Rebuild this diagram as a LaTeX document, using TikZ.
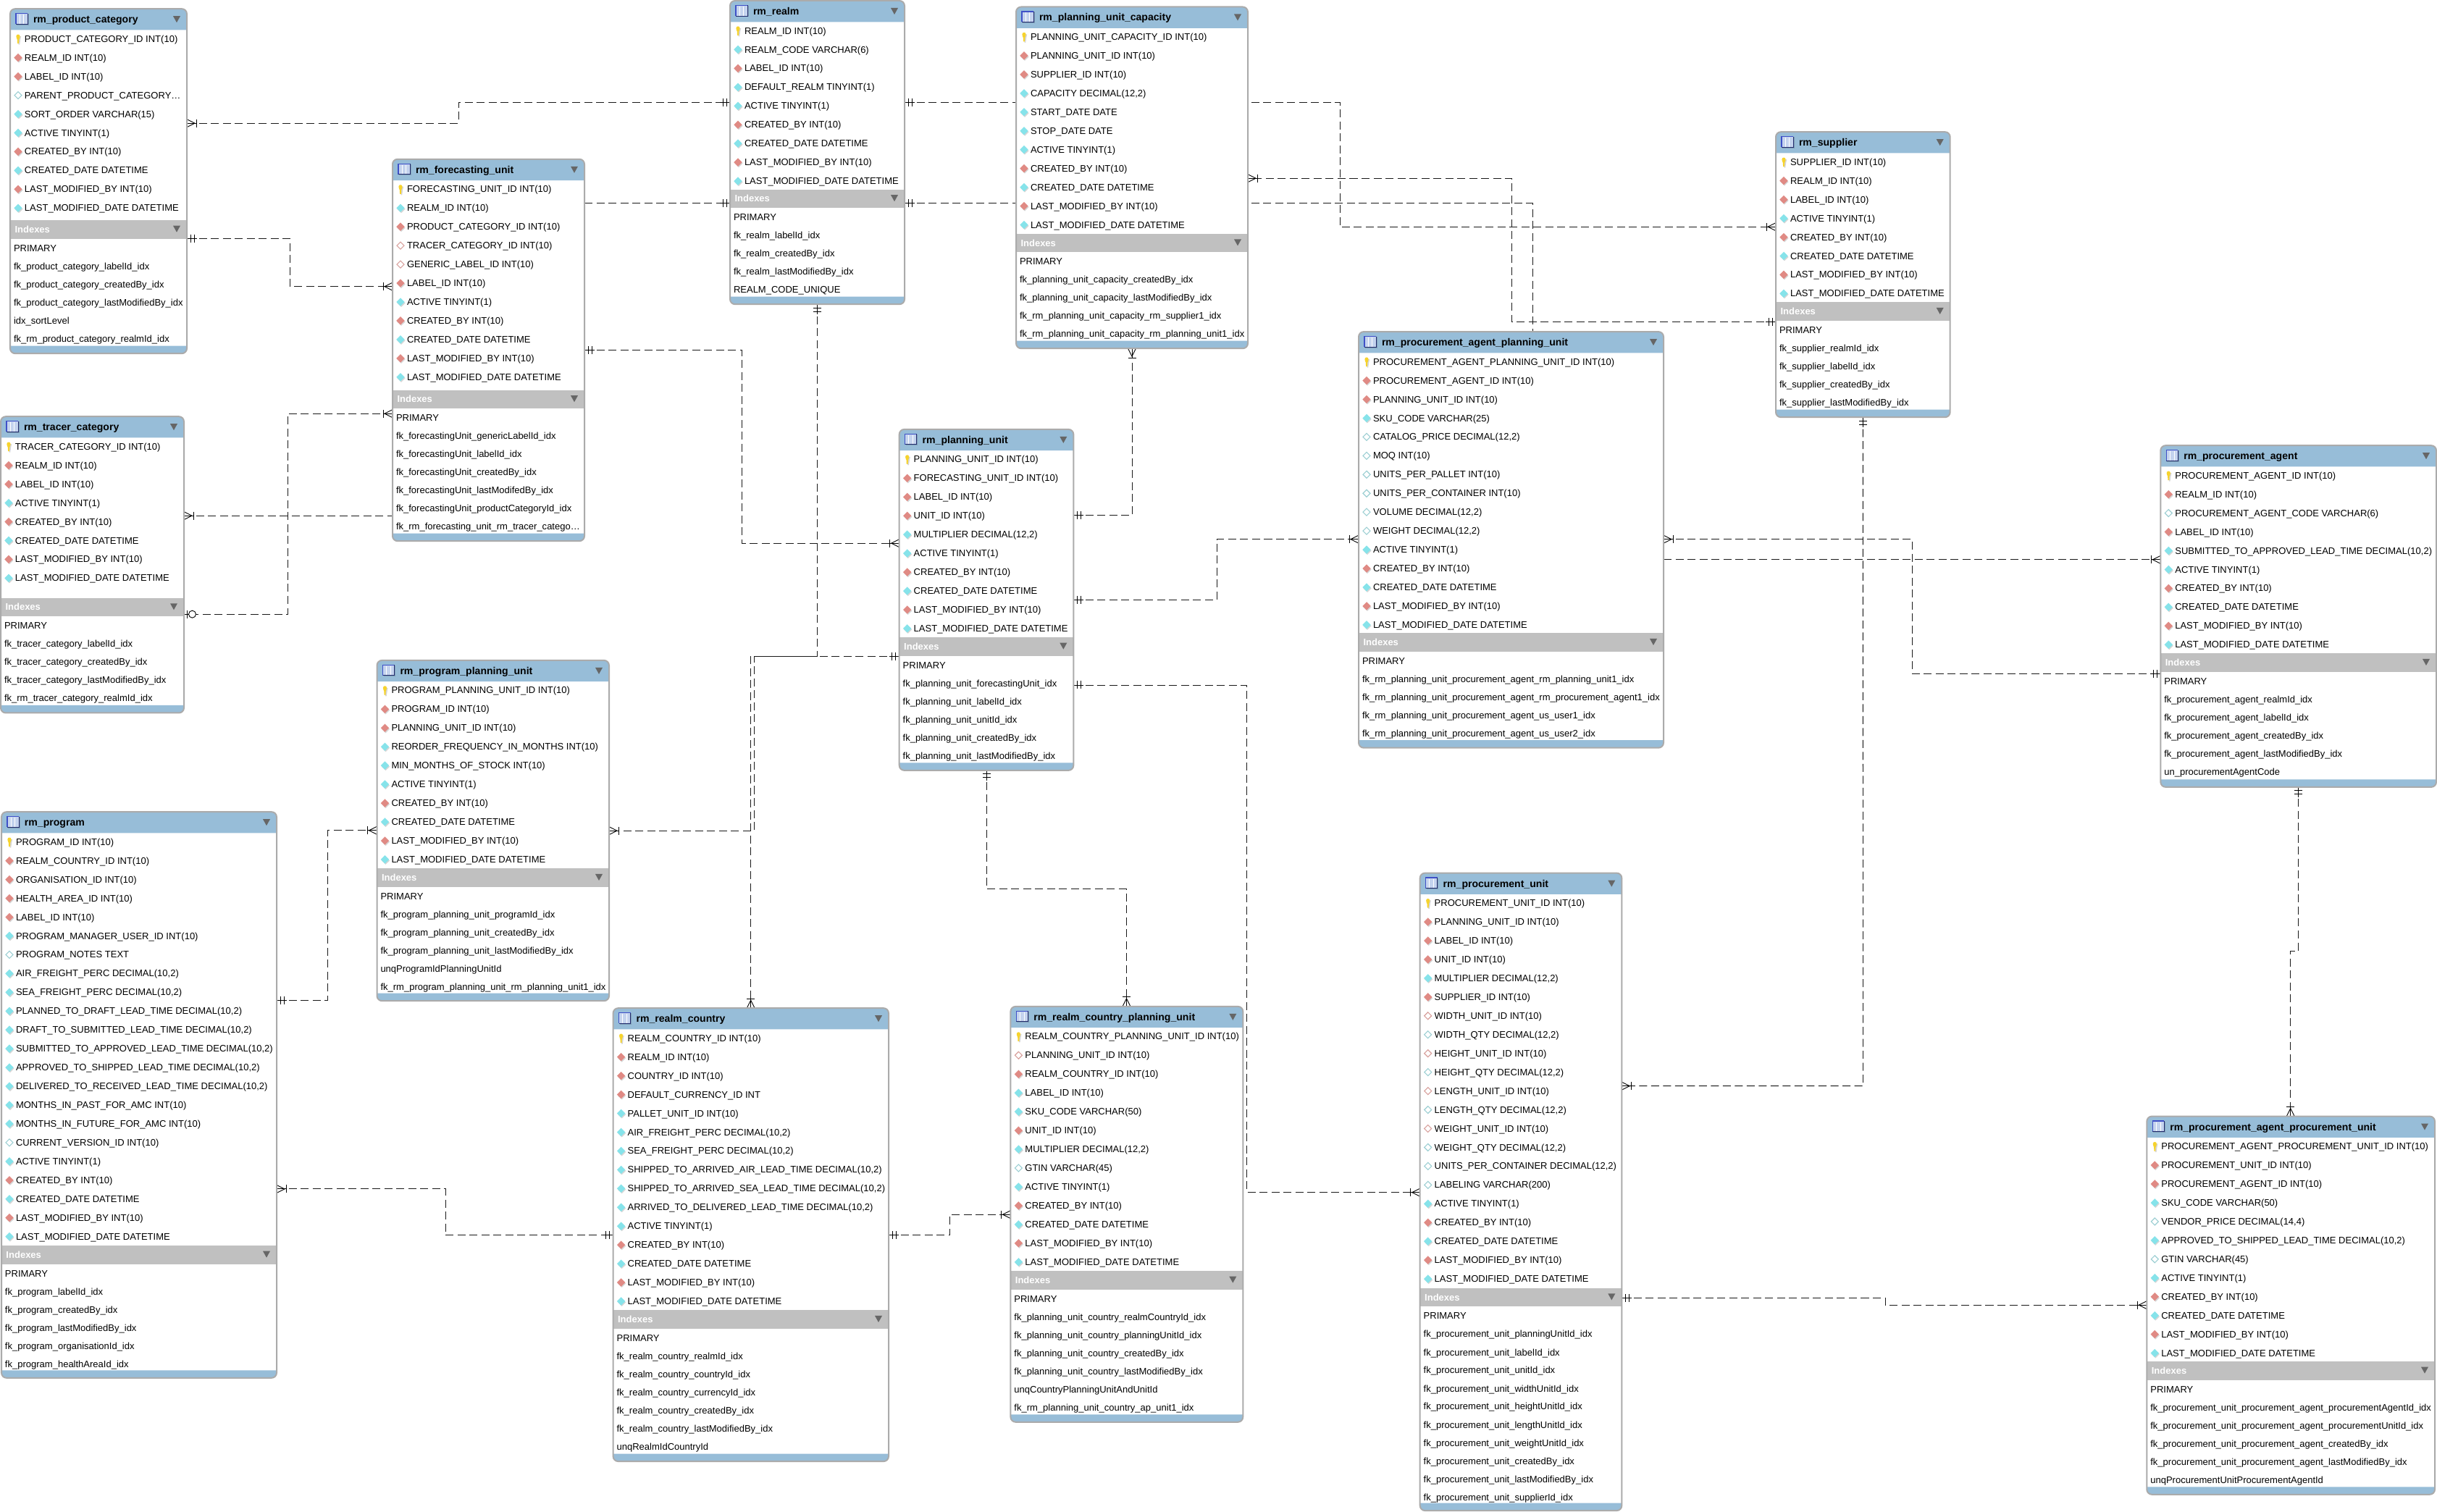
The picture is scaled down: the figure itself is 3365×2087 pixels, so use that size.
\documentclass[tikz,border=0pt]{standalone}
\usepackage{fontspec}
\setmainfont{Liberation Sans}
\usetikzlibrary{calc}
\pgfdeclarelayer{lines}
\pgfsetlayers{lines,main}
\catcode`\_=12
\definecolor{hdrblue}{HTML}{97BDD8}
\definecolor{barGray}{HTML}{C0C0C0}
\definecolor{edgeGray}{HTML}{ABABAB}
\definecolor{triGray}{HTML}{666666}
\definecolor{redfk}{HTML}{E08A84}
\definecolor{cyanfk}{HTML}{86E3EA}
\definecolor{cyanline}{HTML}{9CCFD3}
\definecolor{redline}{HTML}{D8A09C}
\definecolor{keyyellow}{HTML}{F6D32D}
\definecolor{iconblue}{HTML}{3F50C8}
\definecolor{iconfill}{HTML}{C4D3EE}
\tikzset{
  conn/.style={black!90,line width=0.009cm,dash pattern=on 0.11cm off 0.055cm},
  tipline/.style={black,line width=0.009cm,solid},
  tablebody/.style={fill=white,draw=none,inner sep=0pt,outer sep=0pt,rectangle,rounded corners=0.07cm},
  tableedge/.style={draw=edgeGray,line width=0.02cm,rounded corners=0.07cm},
  coltext/.style={anchor=base west,inner sep=0pt,outer sep=0pt,text=black,font=\fontsize{3.7pt}{4.4pt}\selectfont},
  titletext/.style={anchor=base west,inner sep=0pt,outer sep=0pt,text=black,font=\fontsize{4pt}{4.8pt}\selectfont\bfseries},
  barhead/.style={anchor=base west,inner sep=0pt,outer sep=0pt,text=white,font=\fontsize{3.7pt}{4.4pt}\selectfont\bfseries},
  shade/.style={fill=black,fill opacity=0.16},
  pics/crow/.style={code={
    \draw[tipline] (0,-5.5) -- (11,0) -- (0,5.5);
    \draw[tipline] (0,0) -- (13,0);
    \draw[tipline] (13,-5.5) -- (13,5.5);}},
  pics/one/.style={code={
    \draw[tipline] (0,0) -- (14,0);
    \draw[tipline] (5,-5.5) -- (5,5.5);
    \draw[tipline] (10,-5.5) -- (10,5.5);}},
  pics/zeroone/.style={code={
    \draw[tipline] (0,0) -- (6,0);
    \draw[tipline] (4,-5.5) -- (4,5.5);
    \draw[tipline,fill=white] (11.5,0) circle[radius=5];}},
  pics/none/.style={code={}},
  pics/mkkey/.style={code={
    \fill[shade] (-1.2,-3.6) -- (4.2,-3.6) -- (3.2,1) -- (2.2,8) -- (0.6,8) -- (0,1) -- cycle;
    \fill[keyyellow] (-2.6,-3.5) .. controls (-2.6,-7) and (2.6,-7) .. (2.6,-3.5) .. controls (2.6,-1) and (1.4,0) .. (1.2,1) -- (0.9,6.5) -- (-0.9,6.5) -- (-1.2,1) .. controls (-1.4,0) and (-2.6,-1) .. (-2.6,-3.5) -- cycle;}},
  pics/mkred/.style={code={
    \fill[shade] (-4.6,1.5) -- (1,-4) -- (6.6,1.5) -- (1,7) -- cycle;
    \fill[redfk] (-5.7,0) -- (0,-5.7) -- (5.7,0) -- (0,5.7) -- cycle;}},
  pics/mkcyan/.style={code={
    \fill[shade] (-4.6,1.5) -- (1,-4) -- (6.6,1.5) -- (1,7) -- cycle;
    \fill[cyanfk] (-5.7,0) -- (0,-5.7) -- (5.7,0) -- (0,5.7) -- cycle;}},
  pics/mkhollow/.style={code={
    \draw[cyanline,line width=0.011cm,fill=white] (-5,0) -- (0,-5) -- (5,0) -- (0,5) -- cycle;}},
  pics/mkpink/.style={code={
    \draw[redline,line width=0.011cm,fill=white] (-5,0) -- (0,-5) -- (5,0) -- (0,5) -- cycle;}},
}
\newcount\rowno
\newcount\idxno
\newcommand{\colrow}[2]{%
  \global\advance\rowno by 1
  \pgfmathsetmacro\ry{\curT+41.5+25.95*(\the\rowno-1)}%
  \pic at (\curX+11,\ry) {#1};
  \node[coltext] (\curN-c\the\rowno) at (\curX+20,\ry+4.6) {#2};
}
\newcommand{\K}[1]{\colrow{mkkey}{#1}}
\newcommand{\R}[1]{\colrow{mkred}{#1}}
\newcommand{\C}[1]{\colrow{mkcyan}{#1}}
\newcommand{\N}[1]{\colrow{mkhollow}{#1}}
\newcommand{\Q}[1]{\colrow{mkpink}{#1}}
\newcommand{\Act}{\C{ACTIVE TINYINT(1)}}
\newcommand{\Audit}{\R{CREATED_BY INT(10)}\C{CREATED_DATE DATETIME}\R{LAST_MODIFIED_BY INT(10)}\C{LAST_MODIFIED_DATE DATETIME}}
\newcommand{\I}[1]{%
  \global\advance\idxno by 1
  \pgfmathsetmacro\ry{\curB+38.5+25*(\the\idxno-1)}%
  \node[coltext] (\curN-i\the\idxno) at (\curX+5,\ry+4.6) {#1};
}
% name, x1, x2, top, index bar top, bottom, title, columns, indexes
\newcommand{\erdtable}[9]{%
  \def\curN{#1}\def\curX{#2}\def\curT{#4}\def\curB{#5}%
  \global\rowno=0 \global\idxno=0
  \pgfmathsetmacro\tw{#3-#2}\pgfmathsetmacro\th{#6-#4}%
  \pgfmathsetmacro\cx{(#3+#2)/2}\pgfmathsetmacro\cy{(#6+#4)/2}%
  \node[tablebody,minimum width=\tw*0.01cm,minimum height=\th*0.01cm] (#1) at (\cx,\cy) {};
  \fill[hdrblue] (#2,#4+29.3) [rounded corners=0.07cm] -- (#2,#4) -- (#3,#4) [sharp corners] -- (#3,#4+29.3) -- cycle;
  \fill[hdrblue] (#2,#6-10.5) -- (#3,#6-10.5) [rounded corners=0.07cm] -- (#3,#6) -- (#2,#6) [sharp corners] -- cycle;
  \fill[barGray] (#2,#5) rectangle (#3,#5+25.4);
  \draw[tableedge] (#2,#4) rectangle (#3,#6);
  % icon
  \fill[shade] (#2+9,#4+7) rectangle (#2+25.5,#4+22.5);
  \fill[iconfill] (#2+8,#4+6) rectangle (#2+24,#4+21);
  \draw[white,line width=0.006cm] (#2+13,#4+8) -- (#2+13,#4+21) (#2+18.5,#4+8) -- (#2+18.5,#4+21);
  \draw[iconblue,line width=0.012cm] (#2+8,#4+21) -- (#2+8,#4+6.5) -- (#2+24,#4+6.5);
  \draw[iconblue!55!black,line width=0.008cm] (#2+24,#4+6.5) -- (#2+24,#4+21) -- (#2+8,#4+21);
  \node[titletext] (#1-title) at (#2+32,#4+19.5) {#7};
  \fill[triGray] (#3-19,#4+10) -- (#3-9,#4+10) -- (#3-14,#4+19) -- cycle;
  \node[barhead] (#1-indexes) at (#2+6.5,#5+17.2) {Indexes};
  \fill[triGray] (#3-19,#5+7.5) -- (#3-9,#5+7.5) -- (#3-14,#5+16.5) -- cycle;
  #8
  #9
}
% start, tip, rotation, middle path, end, tip, rotation
\newcommand{\rel}[7]{%
  \draw[conn] #1 #4 #5;
  \pic[rotate=#3] at #1 {#2};
  \pic[rotate=#7] at #5 {#6};
}
\begin{document}
\begin{tikzpicture}[x=0.01cm,y=-0.01cm]
\begin{pgfonlayer}{lines}
\path[use as bounding box,fill=white] (0,0) rectangle (3365,2087);
\end{pgfonlayer}

\erdtable{pc}{14}{258}{12}{304}{488}{rm_product_category}{%
  \K{PRODUCT_CATEGORY_ID INT(10)}\R{REALM_ID INT(10)}\R{LABEL_ID INT(10)}\N{PARENT_PRODUCT_CATEGORY…}\C{SORT_ORDER VARCHAR(15)}\Act\Audit}{%
  \I{PRIMARY}\I{fk_product_category_labelId_idx}\I{fk_product_category_createdBy_idx}\I{fk_product_category_lastModifiedBy_idx}\I{idx_sortLevel}\I{fk_rm_product_category_realmId_idx}}

\erdtable{fu}{542}{807}{219.6}{538.5}{747}{rm_forecasting_unit}{%
  \K{FORECASTING_UNIT_ID INT(10)}\C{REALM_ID INT(10)}\R{PRODUCT_CATEGORY_ID INT(10)}\Q{TRACER_CATEGORY_ID INT(10)}\Q{GENERIC_LABEL_ID INT(10)}\R{LABEL_ID INT(10)}\Act\Audit}{%
  \I{PRIMARY}\I{fk_forecastingUnit_genericLabelId_idx}\I{fk_forecastingUnit_labelId_idx}\I{fk_forecastingUnit_createdBy_idx}\I{fk_forecastingUnit_lastModifedBy_idx}\I{fk_forecastingUnit_productCategoryId_idx}\I{fk_rm_forecasting_unit_rm_tracer_catego…}}

\erdtable{tc}{1}{254}{575}{825.6}{984.3}{rm_tracer_category}{%
  \K{TRACER_CATEGORY_ID INT(10)}\R{REALM_ID INT(10)}\R{LABEL_ID INT(10)}\Act\Audit}{%
  \I{PRIMARY}\I{fk_tracer_category_labelId_idx}\I{fk_tracer_category_createdBy_idx}\I{fk_tracer_category_lastModifiedBy_idx}\I{fk_rm_tracer_category_realmId_idx}}

\erdtable{realm}{1008}{1249}{0.8}{261.5}{420}{rm_realm}{%
  \K{REALM_ID INT(10)}\C{REALM_CODE VARCHAR(6)}\R{LABEL_ID INT(10)}\C{DEFAULT_REALM TINYINT(1)}\Act\Audit}{%
  \I{PRIMARY}\I{fk_realm_labelId_idx}\I{fk_realm_createdBy_idx}\I{fk_realm_lastModifiedBy_idx}\I{REALM_CODE_UNIQUE}}

\erdtable{cap}{1403}{1723}{9.3}{322.7}{481}{rm_planning_unit_capacity}{%
  \K{PLANNING_UNIT_CAPACITY_ID INT(10)}\R{PLANNING_UNIT_ID INT(10)}\R{SUPPLIER_ID INT(10)}\C{CAPACITY DECIMAL(12,2)}\C{START_DATE DATE}\C{STOP_DATE DATE}\Act\Audit}{%
  \I{PRIMARY}\I{fk_planning_unit_capacity_createdBy_idx}\I{fk_planning_unit_capacity_lastModifiedBy_idx}\I{fk_rm_planning_unit_capacity_rm_supplier1_idx}\I{fk_rm_planning_unit_capacity_rm_planning_unit1_idx}}

\erdtable{sup}{2452}{2692.7}{182}{417.3}{576}{rm_supplier}{%
  \K{SUPPLIER_ID INT(10)}\R{REALM_ID INT(10)}\R{LABEL_ID INT(10)}\Act\Audit}{%
  \I{PRIMARY}\I{fk_supplier_realmId_idx}\I{fk_supplier_labelId_idx}\I{fk_supplier_createdBy_idx}\I{fk_supplier_lastModifiedBy_idx}}

\erdtable{pu}{1241.7}{1482.3}{592.7}{880}{1063.7}{rm_planning_unit}{%
  \K{PLANNING_UNIT_ID INT(10)}\R{FORECASTING_UNIT_ID INT(10)}\R{LABEL_ID INT(10)}\R{UNIT_ID INT(10)}\C{MULTIPLIER DECIMAL(12,2)}\Act\Audit}{%
  \I{PRIMARY}\I{fk_planning_unit_forecastingUnit_idx}\I{fk_planning_unit_labelId_idx}\I{fk_planning_unit_unitId_idx}\I{fk_planning_unit_createdBy_idx}\I{fk_planning_unit_lastModifiedBy_idx}}

\erdtable{apu}{1876}{2297}{457.9}{874.3}{1032.5}{rm_procurement_agent_planning_unit}{%
  \K{PROCUREMENT_AGENT_PLANNING_UNIT_ID INT(10)}\R{PROCUREMENT_AGENT_ID INT(10)}\R{PLANNING_UNIT_ID INT(10)}\C{SKU_CODE VARCHAR(25)}\N{CATALOG_PRICE DECIMAL(12,2)}\N{MOQ INT(10)}\N{UNITS_PER_PALLET INT(10)}\N{UNITS_PER_CONTAINER INT(10)}\N{VOLUME DECIMAL(12,2)}\N{WEIGHT DECIMAL(12,2)}\Act\Audit}{%
  \I{PRIMARY}\I{fk_rm_planning_unit_procurement_agent_rm_planning_unit1_idx}\I{fk_rm_planning_unit_procurement_agent_rm_procurement_agent1_idx}\I{fk_rm_planning_unit_procurement_agent_us_user1_idx}\I{fk_rm_planning_unit_procurement_agent_us_user2_idx}}

\erdtable{pa}{2983.3}{3364}{615}{902.3}{1086.7}{rm_procurement_agent}{%
  \K{PROCUREMENT_AGENT_ID INT(10)}\R{REALM_ID INT(10)}\N{PROCUREMENT_AGENT_CODE VARCHAR(6)}\R{LABEL_ID INT(10)}\C{SUBMITTED_TO_APPROVED_LEAD_TIME DECIMAL(10,2)}\Act\Audit}{%
  \I{PRIMARY}\I{fk_procurement_agent_realmId_idx}\I{fk_procurement_agent_labelId_idx}\I{fk_procurement_agent_createdBy_idx}\I{fk_procurement_agent_lastModifiedBy_idx}\I{un_procurementAgentCode}}

\erdtable{ppu}{520.5}{841}{911.7}{1199.3}{1382}{rm_program_planning_unit}{%
  \K{PROGRAM_PLANNING_UNIT_ID INT(10)}\R{PROGRAM_ID INT(10)}\R{PLANNING_UNIT_ID INT(10)}\C{REORDER_FREQUENCY_IN_MONTHS INT(10)}\C{MIN_MONTHS_OF_STOCK INT(10)}\Act\Audit}{%
  \I{PRIMARY}\I{fk_program_planning_unit_programId_idx}\I{fk_program_planning_unit_createdBy_idx}\I{fk_program_planning_unit_lastModifiedBy_idx}\I{unqProgramIdPlanningUnitId}\I{fk_rm_program_planning_unit_rm_planning_unit1_idx}}

\erdtable{prog}{2}{382}{1121}{1720}{1902.6}{rm_program}{%
  \K{PROGRAM_ID INT(10)}\R{REALM_COUNTRY_ID INT(10)}\R{ORGANISATION_ID INT(10)}\R{HEALTH_AREA_ID INT(10)}\R{LABEL_ID INT(10)}\C{PROGRAM_MANAGER_USER_ID INT(10)}\N{PROGRAM_NOTES TEXT}\C{AIR_FREIGHT_PERC DECIMAL(10,2)}\C{SEA_FREIGHT_PERC DECIMAL(10,2)}\C{PLANNED_TO_DRAFT_LEAD_TIME DECIMAL(10,2)}\C{DRAFT_TO_SUBMITTED_LEAD_TIME DECIMAL(10,2)}\C{SUBMITTED_TO_APPROVED_LEAD_TIME DECIMAL(10,2)}\C{APPROVED_TO_SHIPPED_LEAD_TIME DECIMAL(10,2)}\C{DELIVERED_TO_RECEIVED_LEAD_TIME DECIMAL(10,2)}\C{MONTHS_IN_PAST_FOR_AMC INT(10)}\C{MONTHS_IN_FUTURE_FOR_AMC INT(10)}\N{CURRENT_VERSION_ID INT(10)}\Act\Audit}{%
  \I{PRIMARY}\I{fk_program_labelId_idx}\I{fk_program_createdBy_idx}\I{fk_program_lastModifiedBy_idx}\I{fk_program_organisationId_idx}\I{fk_program_healthAreaId_idx}}

\erdtable{rc}{846.6}{1227}{1392}{1809.3}{2017.9}{rm_realm_country}{%
  \K{REALM_COUNTRY_ID INT(10)}\R{REALM_ID INT(10)}\R{COUNTRY_ID INT(10)}\R{DEFAULT_CURRENCY_ID INT}\C{PALLET_UNIT_ID INT(10)}\C{AIR_FREIGHT_PERC DECIMAL(10,2)}\C{SEA_FREIGHT_PERC DECIMAL(10,2)}\C{SHIPPED_TO_ARRIVED_AIR_LEAD_TIME DECIMAL(10,2)}\C{SHIPPED_TO_ARRIVED_SEA_LEAD_TIME DECIMAL(10,2)}\C{ARRIVED_TO_DELIVERED_LEAD_TIME DECIMAL(10,2)}\Act\Audit}{%
  \I{PRIMARY}\I{fk_realm_country_realmId_idx}\I{fk_realm_country_countryId_idx}\I{fk_realm_country_currencyId_idx}\I{fk_realm_country_createdBy_idx}\I{fk_realm_country_lastModifiedBy_idx}\I{unqRealmIdCountryId}}

\erdtable{rcpu}{1395.4}{1716.3}{1389.7}{1755}{1963.6}{rm_realm_country_planning_unit}{%
  \K{REALM_COUNTRY_PLANNING_UNIT_ID INT(10)}\Q{PLANNING_UNIT_ID INT(10)}\R{REALM_COUNTRY_ID INT(10)}\C{LABEL_ID INT(10)}\C{SKU_CODE VARCHAR(50)}\R{UNIT_ID INT(10)}\C{MULTIPLIER DECIMAL(12,2)}\N{GTIN VARCHAR(45)}\Act\Audit}{%
  \I{PRIMARY}\I{fk_planning_unit_country_realmCountryId_idx}\I{fk_planning_unit_country_planningUnitId_idx}\I{fk_planning_unit_country_createdBy_idx}\I{fk_planning_unit_country_lastModifiedBy_idx}\I{unqCountryPlanningUnitAndUnitId}\I{fk_rm_planning_unit_country_ap_unit1_idx}}

\erdtable{pru}{1960.7}{2239.3}{1205.4}{1778.7}{2085.9}{rm_procurement_unit}{%
  \K{PROCUREMENT_UNIT_ID INT(10)}\R{PLANNING_UNIT_ID INT(10)}\R{LABEL_ID INT(10)}\R{UNIT_ID INT(10)}\C{MULTIPLIER DECIMAL(12,2)}\R{SUPPLIER_ID INT(10)}\Q{WIDTH_UNIT_ID INT(10)}\N{WIDTH_QTY DECIMAL(12,2)}\Q{HEIGHT_UNIT_ID INT(10)}\N{HEIGHT_QTY DECIMAL(12,2)}\Q{LENGTH_UNIT_ID INT(10)}\N{LENGTH_QTY DECIMAL(12,2)}\Q{WEIGHT_UNIT_ID INT(10)}\N{WEIGHT_QTY DECIMAL(12,2)}\N{UNITS_PER_CONTAINER DECIMAL(12,2)}\N{LABELING VARCHAR(200)}\Act\Audit}{%
  \I{PRIMARY}\I{fk_procurement_unit_planningUnitId_idx}\I{fk_procurement_unit_labelId_idx}\I{fk_procurement_unit_unitId_idx}\I{fk_procurement_unit_widthUnitId_idx}\I{fk_procurement_unit_heightUnitId_idx}\I{fk_procurement_unit_lengthUnitId_idx}\I{fk_procurement_unit_weightUnitId_idx}\I{fk_procurement_unit_createdBy_idx}\I{fk_procurement_unit_lastModifiedBy_idx}\I{fk_procurement_unit_supplierId_idx}}

\erdtable{apru}{2964.3}{3362}{1541.4}{1880}{2063.6}{rm_procurement_agent_procurement_unit}{%
  \K{PROCUREMENT_AGENT_PROCUREMENT_UNIT_ID INT(10)}\R{PROCUREMENT_UNIT_ID INT(10)}\R{PROCUREMENT_AGENT_ID INT(10)}\C{SKU_CODE VARCHAR(50)}\N{VENDOR_PRICE DECIMAL(14,4)}\C{APPROVED_TO_SHIPPED_LEAD_TIME DECIMAL(10,2)}\N{GTIN VARCHAR(45)}\Act\Audit}{%
  \I{PRIMARY}\I{fk_procurement_unit_procurement_agent_procurementAgentId_idx}\I{fk_procurement_unit_procurement_agent_procurementUnitId_idx}\I{fk_procurement_unit_procurement_agent_createdBy_idx}\I{fk_procurement_unit_procurement_agent_lastModifiedBy_idx}\I{unqProcurementUnitProcurementAgentId}}

\begin{pgfonlayer}{lines}
\rel{(pc.east |- 0,170)}{crow}{0}{-- (633,170) -- (633,141) --}{(realm.west |- 0,141)}{one}{180}
\rel{(pc.east |- 0,329)}{one}{0}{-- (400,329) -- (400,395.5) --}{(fu.west |- 0,395.5)}{crow}{180}
\rel{(realm.east |- 0,141)}{one}{0}{-- (1850,141) -- (1850,313) --}{(sup.west |- 0,313)}{crow}{180}
\rel{(sup.west |- 0,444.4)}{one}{180}{-- (2087.6,444.4) -- (2087.6,246) --}{(cap.east |- 0,246)}{crow}{0}
\rel{(realm.east |- 0,280.5)}{one}{0}{-- (2116,280.5) --}{(2116,458)}{none}{0}
\rel{(fu.east |- 0,280.5)}{none}{0}{--}{(realm.west |- 0,280.5)}{one}{180}
\rel{(realm.south)}{one}{-90}{-- (1128.5,906) -- (1036.7,906) --}{(rc.north -| 1036.7,0)}{crow}{90}
\rel{(pu.west |- 0,906)}{one}{180}{-- (1041.3,906) -- (1041.3,1147) --}{(ppu.east |- 0,1147)}{crow}{0}
\rel{(fu.east |- 0,483)}{one}{0}{-- (1024,483) -- (1024,750) --}{(pu.west |- 0,750)}{crow}{180}
\rel{(fu.west |- 0,571)}{crow}{180}{-- (397.6,571) -- (397.6,848) --}{(tc.east |- 0,848)}{zeroone}{0}
\rel{(tc.east |- 0,712)}{crow}{0}{--}{(fu.west |- 0,712)}{none}{0}
\rel{(pu.east |- 0,711.5)}{one}{0}{-- (1563,711.5) --}{(cap.south -| 1563,0)}{crow}{-90}
\rel{(pu.east |- 0,828)}{one}{0}{-- (1680,828) -- (1680,744.5) --}{(apu.west |- 0,744.5)}{crow}{180}
\rel{(apu.east |- 0,744.5)}{crow}{0}{-- (2640,744.5) -- (2640,930) --}{(pa.west |- 0,930)}{one}{180}
\rel{(apu.east |- 0,772.7)}{none}{0}{--}{(pa.west |- 0,772.7)}{crow}{180}
\rel{(sup.south)}{one}{-90}{-- (2572.5,1499.5) --}{(pru.east |- 0,1499.5)}{crow}{0}
\rel{(pa.south -| 3173.7,0)}{one}{-90}{-- (3173.7,1313) -- (3162.7,1313) --}{(apru.north -| 3162.7,0)}{crow}{90}
\rel{(pru.east |- 0,1792.4)}{one}{0}{-- (2603,1792.4) -- (2603,1802) --}{(apru.west |- 0,1802)}{crow}{180}
\rel{(pu.south)}{one}{-90}{-- (1362,1227.5) -- (1555.5,1227.5) --}{(rcpu.north -| 1555.5,0)}{crow}{90}
\rel{(pu.east |- 0,945.8)}{one}{0}{-- (1721.5,945.8) -- (1721.5,1646.5) --}{(pru.west |- 0,1646.5)}{crow}{180}
\rel{(prog.east |- 0,1381.5)}{one}{0}{-- (452,1381.5) -- (452,1146.6) --}{(ppu.west |- 0,1146.6)}{crow}{180}
\rel{(prog.east |- 0,1641.7)}{crow}{0}{-- (615,1641.7) -- (615,1705.5) --}{(rc.west |- 0,1705.5)}{one}{180}
\rel{(rc.east |- 0,1705.5)}{one}{0}{-- (1311.6,1705.5) -- (1311.6,1677) --}{(rcpu.west |- 0,1677)}{crow}{180}
\end{pgfonlayer}
\end{tikzpicture}
\end{document}
